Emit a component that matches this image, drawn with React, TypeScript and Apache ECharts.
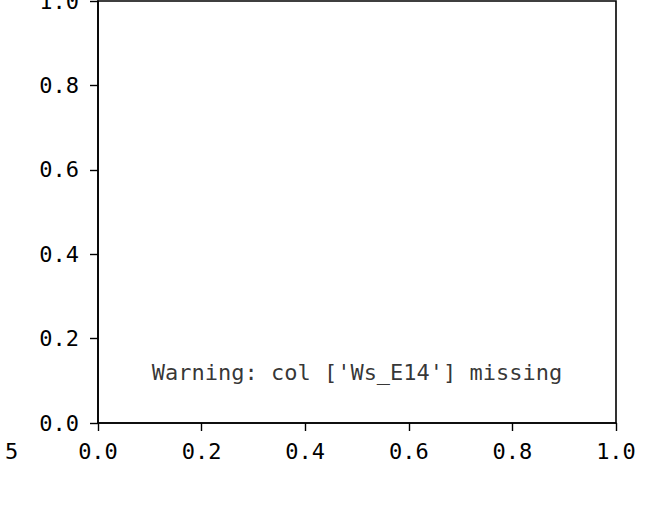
import React, { useEffect, useRef } from "react";
import * as echarts from "echarts";

const xTicks = [0, 0.2, 0.4, 0.6, 0.8, 1.0];
const yTicks = [0, 0.2, 0.4, 0.6, 0.8, 1.0];
const warningText = "Warning: col ['Ws_E14'] missing";
const strayLabel = "5";
const warningPos = [0.5, 0.1];

const FONT = "'DejaVu Sans Mono', 'Liberation Mono', monospace";
const FS = 22;

export default function App() {
  const ref = useRef<HTMLDivElement>(null);
  useEffect(() => {
    if (!ref.current) return;
    const chart = echarts.init(ref.current, null, { renderer: "svg" });
    const axisCommon = {
      min: xTicks[0],
      max: xTicks[xTicks.length - 1],
      interval: 0.2,
      axisLine: { show: true, onZero: false, lineStyle: { color: "#000", width: 1.6 } },
      axisTick: { show: true, inside: false, length: 8, lineStyle: { color: "#000", width: 1.4 } },
      splitLine: { show: false },
      axisLabel: {
        color: "#000",
        fontFamily: FONT,
        fontSize: FS,
        formatter: (v: number) => v.toFixed(1),
      },
    };
    chart.setOption({
      animation: false,
      backgroundColor: "#fff",
      grid: {
        left: 98,
        top: 1,
        right: 52,
        bottom: 85,
        outerBoundsMode: "none",
        containLabel: false,
        show: true,
        borderColor: "#000",
        borderWidth: 1.6,
        backgroundColor: "transparent",
      },
      xAxis: {
        type: "value",
        ...axisCommon,
        axisLabel: { ...axisCommon.axisLabel, margin: 17 },
      },
      yAxis: {
        type: "value",
        ...axisCommon,
        min: yTicks[0],
        max: yTicks[yTicks.length - 1],
        axisLabel: { ...axisCommon.axisLabel, margin: 19 },
      },
      series: [
        {
          type: "scatter",
          data: [warningPos],
          symbolSize: 0,
          silent: true,
          label: {
            show: true,
            position: "inside",
            formatter: warningText,
            color: "#000",
            fontFamily: FONT,
            fontSize: FS,
            offset: [0, -8],
          },
        },
      ],
      graphic: [
        {
          type: "text",
          left: 5,
          top: 440,
          style: {
            text: strayLabel,
            fill: "#000",
            font: `${FS}px ${FONT}`,
          },
        },
      ],
    });
    return () => chart.dispose();
  }, []);
  return (
    <div
      ref={ref}
      style={{ position: "fixed", left: 0, top: 0, width: 668, height: 508, background: "#fff" }}
    />
  );
}
